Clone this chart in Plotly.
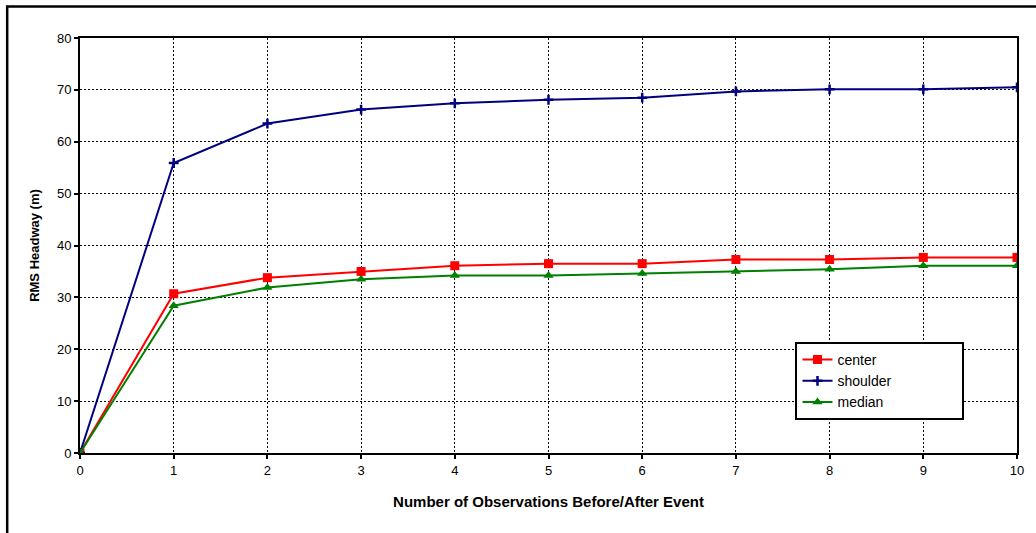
import plotly.graph_objects as go

x_vals = [0, 1, 2, 3, 4, 5, 6, 7, 8, 9, 10]
center = [0, 30.7, 33.8, 35.0, 36.1, 36.5, 36.5, 37.3, 37.3, 37.7, 37.7]
shoulder = [0, 55.9, 63.5, 66.2, 67.4, 68.1, 68.5, 69.7, 70.1, 70.1, 70.5]
median = [0, 28.4, 31.9, 33.5, 34.2, 34.2, 34.6, 35.0, 35.4, 36.1, 36.1]
series_names = ["center", "shoulder", "median"]

pad = "\u00a0" * 17

fig = go.Figure()
fig.add_trace(go.Scatter(x=x_vals, y=center, name=series_names[0], mode="lines+markers",
                         line=dict(color="#FF0000", width=2),
                         marker=dict(symbol="square", size=9, color="#FF0000")))
fig.add_trace(go.Scatter(x=x_vals, y=shoulder, name=series_names[1] + pad, mode="lines+markers",
                         line=dict(color="#000080", width=2),
                         marker=dict(symbol="cross-thin", size=7, color="#000080",
                                     line=dict(color="#000080", width=2.5))))
fig.add_trace(go.Scatter(x=x_vals, y=median, name=series_names[2], mode="lines+markers",
                         line=dict(color="#008000", width=2),
                         marker=dict(symbol="triangle-up", size=9, color="#008000")))

font_family = "Liberation Sans, Arial, sans-serif"

fig.update_layout(
    width=1036, height=533,
    margin=dict(l=80, r=17, t=38, b=80),
    paper_bgcolor="white", plot_bgcolor="white",
    font=dict(family=font_family, size=13, color="black"),
    showlegend=True,
    legend=dict(x=0.7636, y=0.2675, xanchor="left", yanchor="top",
                bgcolor="white", bordercolor="black", borderwidth=2,
                font=dict(size=14, family=font_family, color="black"),
                itemwidth=30, tracegroupgap=0),
    xaxis=dict(range=[0, 10], tickmode="linear", dtick=1, showgrid=True,
               gridcolor="black", griddash="2px,2px", gridwidth=1,
               showline=True, linecolor="black", linewidth=2, mirror=True,
               ticks="outside", ticklen=4, tickwidth=2, tickcolor="black",
               zeroline=False,
               title=dict(text="<b>Number of Observations Before/After Event</b>",
                          font=dict(size=15), standoff=20),
               tickfont=dict(size=13)),
    yaxis=dict(range=[0, 80], tickmode="linear", dtick=10, showgrid=True,
               gridcolor="black", griddash="2px,2px", gridwidth=1,
               showline=True, linecolor="black", linewidth=2, mirror=True,
               ticks="outside", ticklen=4, tickwidth=2, tickcolor="black",
               zeroline=False,
               title=dict(text="<b>RMS Headway (m)</b>", font=dict(size=13), standoff=14),
               tickfont=dict(size=13)),
    shapes=[dict(type="rect", xref="paper", yref="paper",
                 x0=-0.0777, x1=1.03, y0=-0.25, y1=1.0759,
                 line=dict(color="black", width=2.5), fillcolor="rgba(0,0,0,0)",
                 layer="below")],
)

fig.write_html("out.html")
